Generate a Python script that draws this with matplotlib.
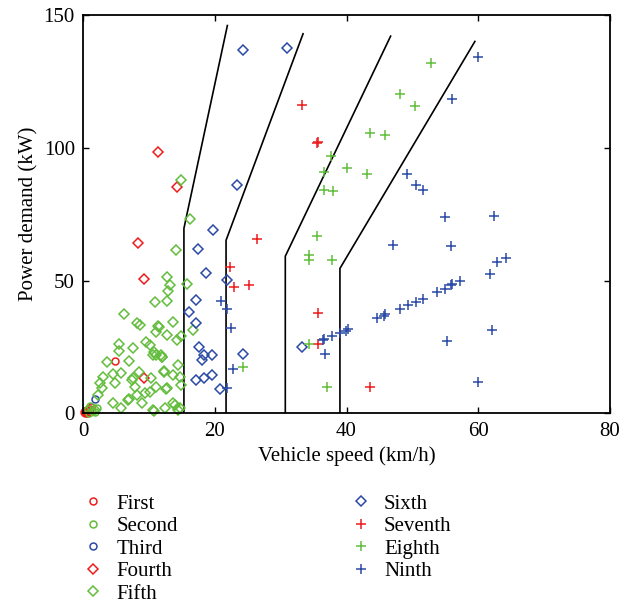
import numpy as np
import matplotlib.pyplot as plt

plt.rcParams['font.family'] = ['Liberation Serif', 'DejaVu Serif']

RED = '#ee1c1c'
GREEN = '#62bd3c'
BLUE = '#2b4aa6'

# gear 1
first_x = [0.2, 0.4, 0.6, 0.3, 0.8, 0.5, 1.0, 0.1, 1.2, 4.8]
first_y = [0.2, 0.6, 0.3, 1.0, 0.8, 1.4, 1.6, 0.7, 2.3, 19.7]
# gear 2
second_x = [0.7, 1.1, 1.4, 1.8, 2.1, 0.9]
second_y = [1.6, 2.6, 1.0, 0.4, 2.2, 0.3]
# gear 3
third_x = [1.8]
third_y = [5.4]
# gear 4
fourth_x = [8.3, 9.2, 11.4, 14.3, 9.3]
fourth_y = [64.3, 50.5, 98.6, 85.3, 13.5]
# gear 5
fifth_x = [14.8, 16.2, 10.9, 6.2, 14.1, 12.8, 13.2, 12.9, 12.7, 15.7,
           13.7, 11.5, 12.7, 14.3, 14.8, 16.7, 11.1, 11.9, 12.3, 14.4,
           13.7, 14.7, 14.8, 12.7, 13.7, 14.4, 12.4, 8.1, 8.6, 11.1,
           5.4, 5.4, 7.5, 9.6, 10.1, 10.6, 7.0, 3.6, 3.0, 4.6,
           5.8, 4.8, 7.6, 7.9, 2.5, 2.8, 2.3, 6.8, 8.1, 9.4,
           10.1, 11.1, 8.9, 4.6, 5.8, 10.6, 1.8, 11.4, 10.8, 12.0,
           8.5, 10.3, 12.3, 7.4, 12.6, 7.0, 10.8, 13.9, 14.7, 11.8]
fifth_y = [87.8, 73.4, 42.0, 37.3, 61.7, 51.4, 48.5, 46.0, 42.4, 48.9,
           34.5, 32.6, 29.5, 27.6, 29.2, 31.3, 21.9, 21.3, 15.7, 18.2,
           14.4, 13.8, 10.7, 9.4, 3.8, 1.2, 1.9, 34.2, 33.2, 30.7,
           26.3, 23.4, 24.5, 26.9, 25.7, 21.9, 19.8, 19.4, 13.8, 14.7,
           15.1, 11.3, 13.2, 10.0, 11.3, 9.4, 6.9, 5.0, 6.9, 7.5,
           7.9, 10.0, 3.8, 3.8, 1.9, 1.2, 1.2, 32.9, 23.2, 21.1,
           15.7, 13.5, 16.0, 12.5, 9.0, 5.6, 1.0, 3.1, 1.9, 21.9]
# gear 6
sixth_x = [24.2, 31.0, 23.3, 19.7, 17.4, 18.6, 21.8, 17.2, 16.1, 17.2,
           17.6, 18.4, 18.0, 19.5, 17.1, 18.4, 19.5, 20.8, 24.2, 33.2]
sixth_y = [137.0, 137.7, 85.9, 69.2, 61.8, 52.7, 50.4, 42.6, 38.2, 34.2,
           25.1, 21.9, 20.1, 21.9, 12.5, 13.4, 14.4, 9.1, 22.3, 25.1]
# gear 7
seventh_x = [33.3, 35.5, 35.7, 26.4, 22.3, 22.9, 25.2, 35.6, 35.6, 43.6]
seventh_y = [116.0, 101.8, 102.2, 65.7, 55.2, 47.5, 48.5, 37.9, 26.3, 10.0]
# gear 8
eighth_x = [52.8, 48.2, 50.4, 43.6, 45.9, 37.7, 40.1, 43.1, 36.6, 36.6,
            37.9, 35.5, 34.3, 34.3, 37.8, 37.1, 34.3, 24.2]
eighth_y = [132.0, 120.2, 115.7, 105.6, 104.7, 96.8, 92.4, 90.3, 90.9, 84.0,
            83.7, 66.7, 59.8, 57.7, 57.7, 10.0, 26.1, 17.3]
# gear 9
ninth_x = [59.9, 56.1, 49.2, 50.5, 51.6, 54.9, 62.4, 47.0, 55.8, 62.9,
           64.2, 61.8, 57.3, 56.1, 55.8, 55.0, 53.8, 51.6, 50.5, 49.3,
           48.2, 45.9, 45.7, 44.7, 40.2, 39.9, 39.0, 37.8, 36.6, 36.5,
           36.8, 55.2, 62.1, 60.0, 20.9, 21.8, 22.4, 22.8, 21.9]
ninth_y = [134.2, 118.5, 90.3, 85.9, 84.0, 73.8, 74.4, 63.6, 63.1, 57.1,
           58.7, 52.4, 49.9, 48.9, 48.3, 47.0, 45.8, 43.0, 42.0, 40.8,
           39.3, 37.3, 36.6, 35.8, 31.6, 31.1, 30.3, 29.1, 28.2, 27.6,
           22.3, 27.3, 31.4, 11.9, 42.3, 39.5, 32.0, 16.9, 9.6]

# shift boundaries: vertical part at x_low up to y_knee, then slanted to top
bound_x_low = [15.3, 21.7, 30.7, 39.0]
bound_y_knee = [69.7, 65.2, 59.2, 54.6]
bound_x_top = [21.9, 33.4, 46.7, 59.5]
bound_y_top = [146.1, 143.0, 142.1, 140.1]

fig = plt.figure(figsize=(6.21, 6.07), dpi=100)
ax = fig.add_axes([0.134, 0.319, 0.848, 0.656])

for xl, yk, xt, yt in zip(bound_x_low, bound_y_knee, bound_x_top, bound_y_top):
    ax.plot([xl, xl, xt], [0, yk, yt], color='black', lw=1.2)

series = [
    ('First', first_x, first_y, 'o', RED, 5),
    ('Second', second_x, second_y, 'o', GREEN, 5),
    ('Third', third_x, third_y, 'o', BLUE, 5),
    ('Fourth', fourth_x, fourth_y, 'D', RED, 5),
    ('Fifth', fifth_x, fifth_y, 'D', GREEN, 5),
    ('Sixth', sixth_x, sixth_y, 'D', BLUE, 5),
    ('Seventh', seventh_x, seventh_y, '+', RED, 7),
    ('Eighth', eighth_x, eighth_y, '+', GREEN, 7),
    ('Ninth', ninth_x, ninth_y, '+', BLUE, 7),
]
for name, xs, ys, m, c, ms in series:
    ax.plot(xs, ys, linestyle='none', marker=m, markersize=ms,
            markerfacecolor='none', markeredgecolor=c, markeredgewidth=1.1,
            label=name, clip_on=False)

ax.set_xlim(0, 80)
ax.set_ylim(0, 150)
ax.set_xticks([0, 20, 40, 60, 80])
ax.set_yticks([0, 50, 100, 150])
ax.tick_params(direction='in', top=True, right=True, length=4, width=1,
               labelsize=15, pad=6)
for s in ax.spines.values():
    s.set_linewidth(1.3)
ax.set_xlabel('Vehicle speed (km/h)', fontsize=15, labelpad=4)
ax.set_ylabel('Power demand (kW)', fontsize=15, labelpad=4)

fig.legend(loc='upper left', bbox_to_anchor=(0.12, 0.2), ncol=2,
           frameon=False, fontsize=15, handlelength=1.0, handletextpad=0.6,
           labelspacing=0.14, columnspacing=8.3, borderaxespad=0)

fig.savefig('out.png', dpi=100)
